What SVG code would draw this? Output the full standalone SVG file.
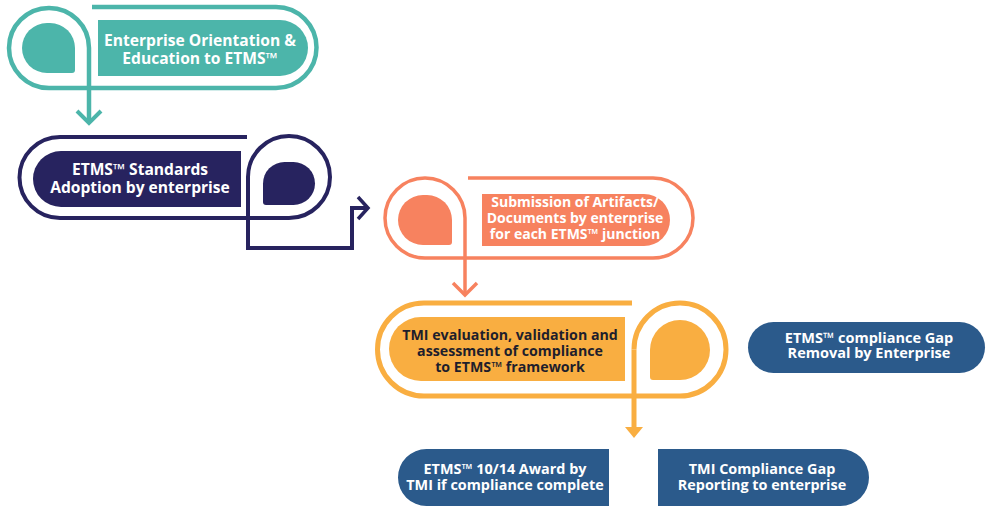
<svg xmlns="http://www.w3.org/2000/svg" width="1000" height="516" viewBox="0 0 1000 516">
<defs>
<style>
.t{font-family:"Open Sans","Noto Sans","Liberation Sans",sans-serif;font-weight:700;text-anchor:middle;fill:#fff}
.loop{fill:none;stroke-linejoin:round}
.teal{fill:#4cb5aa}.navy{fill:#27235f}.salmon{fill:#f7825f}.orange{fill:#f9ae41}.blue{fill:#2b5a8b}
</style>
</defs>
<rect width="1000" height="516" fill="#fff"/>
<g id="node-orientation">
<path class="loop" stroke="#4cb5aa" stroke-width="4.5" d="M 92 7 L 276 7 A 40.5 40.5 0 0 1 276 88 L 49 88 A 40 40 0 0 1 9 48 A 40 40 0 0 1 49 8 A 40 40 0 0 1 89 48"/>
<path class="teal" d="M 22 48 A 25 25 0 0 1 47 23 L 50 23 A 25 25 0 0 1 75 48 L 75 70 Q 75 73 72 73 L 47 73 A 25 25 0 0 1 22 48 Z"/>
<path class="teal" d="M 98 20 L 280 20 A 28 28 0 0 1 280 76 L 98 76 Z"/>
<text class="t" font-size="15.6"><tspan x="200" y="45.5">Enterprise Orientation &amp;</tspan><tspan x="200" y="63.5">Education to ETMS™</tspan></text>
</g>
<g id="node-adoption">
<path class="loop" stroke="#27235f" stroke-width="4" d="M 247 137 L 60 137 A 40.5 40.5 0 0 0 60 218 L 289 218 A 41 41 0 0 0 330 177 A 41 41 0 0 0 289 136 A 41 41 0 0 0 248 177"/>
<path class="navy" d="M 263 183.5 A 21.5 21.5 0 0 1 284.5 162 L 293.5 162 A 21.5 21.5 0 0 1 315 183.5 A 21.5 21.5 0 0 1 293.5 205 L 266 205 Q 263 205 263 202 Z"/>
<path class="navy" d="M 241 151 L 61 151 A 28 28 0 0 0 61 207 L 241 207 Z"/>
<text class="t" font-size="15.6"><tspan x="140" y="175">ETMS™ Standards</tspan><tspan x="140" y="193.3">Adoption by enterprise</tspan></text>
</g>
<g id="node-submission">
<path class="loop" stroke="#f7825f" stroke-width="3.5" d="M 468 178 L 653 178 A 40 40 0 0 1 653 258 L 425 258 A 40 40 0 0 1 385 218 A 40 40 0 0 1 425 178 A 40 40 0 0 1 465 218"/>
<path class="salmon" d="M 398 220 A 25 25 0 0 1 423 195 L 427 195 A 25 25 0 0 1 452 220 L 452 242 Q 452 245 449 245 L 423 245 A 25 25 0 0 1 398 220 Z"/>
<path class="salmon" d="M 482 194 L 644 194 A 26 26 0 0 1 644 246 L 482 246 Z"/>
<text class="t" font-size="14"><tspan x="575" y="207.3">Submission of Artifacts/</tspan><tspan x="575" y="223.3">Documents by enterprise</tspan><tspan x="575" y="239.3">for each ETMS™ junction</tspan></text>
</g>
<g id="node-evaluation">
<path class="loop" stroke="#f9ae41" stroke-width="5" d="M 632 303 L 424 303 A 46.5 46.5 0 0 0 424 396 L 680 396 A 46 46.5 0 0 0 726 349.5 A 46 46.5 0 0 0 680 303 A 46 46.5 0 0 0 634 349.5"/>
<path class="orange" d="M 650 350 A 30 30 0 0 1 680 320 A 30 30 0 0 1 710 350 A 30 30 0 0 1 680 380 L 653 380 Q 650 380 650 377 Z"/>
<path class="orange" d="M 625 317 L 421 317 A 32 32 0 0 0 421 381 L 625 381 Z"/>
<text class="t" font-size="14.2" style="fill:#1e1e2c"><tspan x="510" y="340">TMI evaluation, validation and</tspan><tspan x="510" y="355.7">assessment of compliance</tspan><tspan x="510" y="371.7">to ETMS™ framework</tspan></text>
</g>
<g id="node-removal">
<rect class="blue" x="748" y="322" width="237" height="51" rx="25.5"/>
<text class="t" font-size="14.5"><tspan x="869" y="343.3">ETMS™ compliance Gap</tspan><tspan x="869" y="358">Removal by Enterprise</tspan></text>
</g>
<g id="node-award">
<path class="blue" d="M 609 449 L 426.5 449 A 28.5 28.5 0 0 0 426.5 506 L 609 506 Z"/>
<text class="t" font-size="14.4"><tspan x="505" y="474.3">ETMS™ 10/14 Award by</tspan><tspan x="505" y="489.5">TMI if compliance complete</tspan></text>
</g>
<g id="node-reporting">
<path class="blue" d="M 658 449 L 840.5 449 A 28.5 28.5 0 0 1 840.5 506 L 658 506 Z"/>
<text class="t" font-size="14.4"><tspan x="762" y="474.3">TMI Compliance Gap</tspan><tspan x="762" y="489.5">Reporting to enterprise</tspan></text>
</g>
<g id="connectors" fill="none" stroke-linejoin="miter">
<path stroke="#4cb5aa" stroke-width="4.5" d="M 89 48 L 89 122"/>
<path stroke="#4cb5aa" stroke-width="4" d="M 77 111 L 89 123 L 101 111"/>
<path stroke="#27235f" stroke-width="4" d="M 248 177 L 248 248 L 352 248 L 352 208 L 367 208"/>
<path stroke="#27235f" stroke-width="3.5" d="M 358 197 L 368 208 L 358 219"/>
<path stroke="#f7825f" stroke-width="3.5" d="M 465 218 L 465 293"/>
<path stroke="#f7825f" stroke-width="3.5" d="M 453 283 L 465 295 L 477 283"/>
<path stroke="#f9ae41" stroke-width="5" d="M 634 349.5 L 634 430"/>
<path fill="#f9ae41" stroke="none" d="M 625 427 L 643 427 L 634 438 Z"/>
</g>
</svg>
